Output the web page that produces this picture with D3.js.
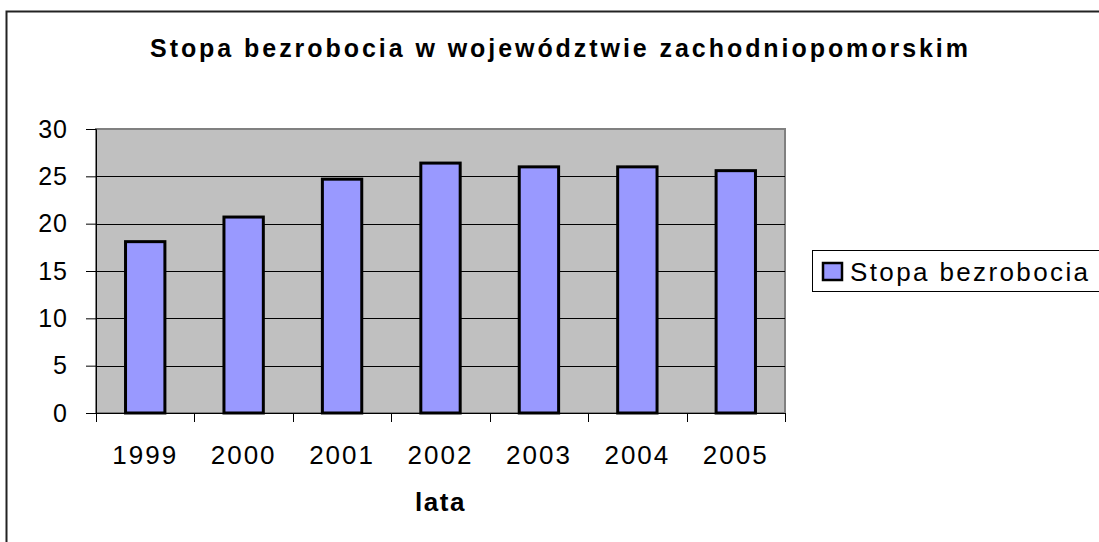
<!DOCTYPE html>
<html>
<head>
<meta charset="utf-8">
<script src="https://cdn.jsdelivr.net/npm/d3@7"></script>
<style>
  body { margin: 0; background: #fff; }
  text { font-family: "Liberation Sans", Arial, sans-serif; fill: #000; }
</style>
</head>
<body>
<div id="chart"></div>
<script>
// data
var years = ["1999", "2000", "2001", "2002", "2003", "2004", "2005"];
var stopa = [18.1, 20.7, 24.7, 26.4, 26.0, 26.0, 25.6];
var yTicks = [0, 5, 10, 15, 20, 25, 30];
var seriesName = "Stopa bezrobocia";
var chartTitle = "Stopa bezrobocia w województwie zachodniopomorskim";
var xTitle = "lata";

const width = 1099;
const height = 542;

// plot area
const plot = { left: 96, right: 785, top: 129, bottom: 413 };

var svg = d3.select("#chart").append("svg")
  .attr("width", width)
  .attr("height", height);

// outer chart border (right and bottom are cut off in the picture)
svg.append("rect")
  .attr("x", 6.5).attr("y", 11.5)
  .attr("width", 1200).attr("height", 600)
  .attr("fill", "none")
  .attr("stroke", "#222")
  .attr("stroke-width", 2);

var xScale = d3.scaleBand().domain(years)
  .range([plot.left, plot.right])
  .paddingInner(0.6).paddingOuter(0.3);
var yScale = d3.scaleLinear().domain([0, 30]).range([plot.bottom, plot.top]);

// grey background
svg.append("rect")
  .attr("x", plot.left).attr("y", plot.top)
  .attr("width", plot.right - plot.left)
  .attr("height", plot.bottom - plot.top)
  .attr("fill", "#c0c0c0")
  .attr("stroke", "#808080")
  .attr("stroke-width", 2);

// gridlines
svg.append("g").selectAll("line")
  .data(yTicks.filter(d => d > 0 && d < 30))
  .enter().append("line")
  .attr("x1", plot.left).attr("x2", plot.right)
  .attr("y1", d => Math.round(yScale(d)) + 0.5)
  .attr("y2", d => Math.round(yScale(d)) + 0.5)
  .attr("stroke", "#000").attr("stroke-width", 1);

// bars
svg.append("g").selectAll("rect")
  .data(stopa)
  .enter().append("rect")
  .attr("x", (d, i) => xScale(years[i]))
  .attr("y", d => yScale(d))
  .attr("width", xScale.bandwidth())
  .attr("height", d => plot.bottom - yScale(d))
  .attr("fill", "#9999ff")
  .attr("stroke", "#000")
  .attr("stroke-width", 3);

// y axis
var yAxis = d3.axisLeft(yScale).tickValues(yTicks).tickSize(10).tickPadding(18);
var gy = svg.append("g")
  .attr("transform", "translate(" + plot.left + ",0)")
  .call(yAxis);
gy.select(".domain").attr("stroke", "#000");
gy.selectAll(".tick line").attr("stroke", "#000");
gy.selectAll("text")
  .style("font-size", "25px")
  .style("letter-spacing", "1px")
  .attr("fill", "#000");

// x axis: ticks between categories
var step = xScale.step();
var bounds = d3.range(years.length + 1).map(i => plot.left + i * step);
var gx = svg.append("g");
gx.append("line")
  .attr("x1", plot.left).attr("x2", plot.right)
  .attr("y1", plot.bottom + 0.5).attr("y2", plot.bottom + 0.5)
  .attr("stroke", "#000");
gx.selectAll(".tk")
  .data(bounds)
  .enter().append("line")
  .attr("class", "tk")
  .attr("x1", d => Math.round(d) + 0.5).attr("x2", d => Math.round(d) + 0.5)
  .attr("y1", plot.bottom).attr("y2", plot.bottom + 9)
  .attr("stroke", "#000");
gx.selectAll("text")
  .data(years)
  .enter().append("text")
  .attr("x", d => xScale(d) + xScale.bandwidth() / 2)
  .attr("y", 464)
  .attr("text-anchor", "middle")
  .style("font-size", "26px")
  .style("letter-spacing", "2px")
  .text(d => d);

// titles
svg.append("text")
  .attr("x", 559).attr("y", 57)
  .attr("text-anchor", "middle")
  .attr("textLength", 818)
  .attr("lengthAdjust", "spacing")
  .style("font-size", "25px")
  .style("font-weight", "bold")
  .text(chartTitle);

svg.append("text")
  .attr("x", (plot.left + plot.right) / 2).attr("y", 511)
  .attr("text-anchor", "middle")
  .style("font-size", "26px")
  .style("font-weight", "bold")
  .style("letter-spacing", "1.5px")
  .text(xTitle);

// legend
var lg = svg.append("g");
lg.append("rect")
  .attr("x", 812.5).attr("y", 250.5)
  .attr("width", 400).attr("height", 41)
  .attr("fill", "#fff")
  .attr("stroke", "#000")
  .attr("stroke-width", 1);
lg.append("rect")
  .attr("x", 823).attr("y", 263)
  .attr("width", 19).attr("height", 17)
  .attr("fill", "#9999ff")
  .attr("stroke", "#000")
  .attr("stroke-width", 2.5);
lg.append("text")
  .attr("x", 850).attr("y", 281)
  .attr("textLength", 238)
  .attr("lengthAdjust", "spacing")
  .style("font-size", "26px")
  .text(seriesName);
</script>
</body>
</html>
